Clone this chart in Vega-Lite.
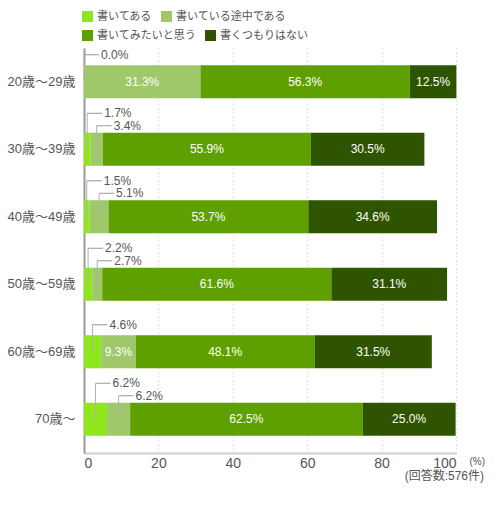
{
  "$schema": "https://vega.github.io/schema/vega-lite/v6.json",
  "description": "年代別の回答割合（回答数:576件）",
  "autosize": {"type": "none"},
  "padding": {"left": 84, "top": 48, "right": 44, "bottom": 63},
  "width": 372,
  "height": 405,
  "background": "white",
  "title": {
    "text": "(回答数:576件)",
    "orient": "bottom",
    "anchor": "end",
    "frame": "group",
    "dx": 28,
    "offset": 1,
    "fontSize": 12,
    "fontWeight": "normal",
    "color": "#555"
  },
  "config": {
    "font": "'Liberation Sans', 'Noto Sans CJK JP', sans-serif",
    "view": {"stroke": null},
    "legend": {
      "title": null,
      "orient": "none",
      "direction": "horizontal",
      "legendX": -2,
      "symbolType": "square",
      "symbolSize": 121,
      "symbolStrokeWidth": 0,
      "labelFontSize": 11,
      "labelColor": "#555",
      "labelOffset": 4,
      "columnPadding": 9
    }
  },
  "data": {
    "values": [
      {"age": "20歳～29歳", "cat": "書いてある", "value": 0.0},
      {"age": "20歳～29歳", "cat": "書いている途中である", "value": 31.3},
      {"age": "20歳～29歳", "cat": "書いてみたいと思う", "value": 56.3},
      {"age": "20歳～29歳", "cat": "書くつもりはない", "value": 12.5},
      {"age": "30歳～39歳", "cat": "書いてある", "value": 1.7},
      {"age": "30歳～39歳", "cat": "書いている途中である", "value": 3.4},
      {"age": "30歳～39歳", "cat": "書いてみたいと思う", "value": 55.9},
      {"age": "30歳～39歳", "cat": "書くつもりはない", "value": 30.5},
      {"age": "40歳～49歳", "cat": "書いてある", "value": 1.5},
      {"age": "40歳～49歳", "cat": "書いている途中である", "value": 5.1},
      {"age": "40歳～49歳", "cat": "書いてみたいと思う", "value": 53.7},
      {"age": "40歳～49歳", "cat": "書くつもりはない", "value": 34.6},
      {"age": "50歳～59歳", "cat": "書いてある", "value": 2.2},
      {"age": "50歳～59歳", "cat": "書いている途中である", "value": 2.7},
      {"age": "50歳～59歳", "cat": "書いてみたいと思う", "value": 61.6},
      {"age": "50歳～59歳", "cat": "書くつもりはない", "value": 31.1},
      {"age": "60歳～69歳", "cat": "書いてある", "value": 4.6},
      {"age": "60歳～69歳", "cat": "書いている途中である", "value": 9.3},
      {"age": "60歳～69歳", "cat": "書いてみたいと思う", "value": 48.1},
      {"age": "60歳～69歳", "cat": "書くつもりはない", "value": 31.5},
      {"age": "70歳～", "cat": "書いてある", "value": 6.2},
      {"age": "70歳～", "cat": "書いている途中である", "value": 6.2},
      {"age": "70歳～", "cat": "書いてみたいと思う", "value": 62.5},
      {"age": "70歳～", "cat": "書くつもりはない", "value": 25.0}
    ]
  },
  "transform": [
    {"calculate": "indexof(['書いてある','書いている途中である','書いてみたいと思う','書くつもりはない'], datum.cat)", "as": "ord"},
    {"stack": "value", "groupby": ["age"], "sort": [{"field": "ord", "order": "ascending"}], "as": ["v0", "v1"]},
    {"calculate": "(datum.v0 + datum.v1) / 2", "as": "mid"},
    {"calculate": "format(datum.value, '.1f') + '%'", "as": "label"}
  ],
  "encoding": {
    "y": {
      "field": "age",
      "type": "nominal",
      "sort": ["20歳～29歳", "30歳～39歳", "40歳～49歳", "50歳～59歳", "60歳～69歳", "70歳～"],
      "scale": {"paddingInner": 0.51, "paddingOuter": 0.255},
      "axis": {
        "title": null,
        "ticks": false,
        "labelPadding": 9,
        "labelFontSize": 13,
        "labelColor": "#555",
        "domainColor": "#999",
        "domainWidth": 2
      }
    }
  },
  "layer": [
    {
      "encoding": {
        "x": {
          "field": "v0",
          "type": "quantitative",
          "scale": {"domain": [0, 100], "nice": false},
          "axis": {
            "values": [0, 20, 40, 60, 80, 100],
            "ticks": false,
            "labelFontSize": 14,
            "labelColor": "#555",
            "labelPadding": 3,
            "domainColor": "#d0d0d0",
            "domainWidth": 2,
            "grid": true,
            "gridColor": "#c8c8c8",
            "gridDash": [1, 3],
            "title": "(%)",
            "titleX": 385,
            "titleY": 8,
            "titleAlign": "left",
            "titleBaseline": "middle",
            "titleFontSize": 10,
            "titleFontWeight": "normal",
            "titleColor": "#555"
          }
        },
        "x2": {"field": "v1"}
      },
      "layer": [
        {
          "transform": [{"filter": "datum.ord < 2"}],
          "mark": {"type": "bar"},
          "encoding": {
            "fill": {
              "field": "cat",
              "type": "nominal",
              "scale": {
                "domain": ["書いてある", "書いている途中である"],
                "range": ["#8fe61c", "#9ec86a"]
              },
              "legend": {"legendY": -37}
            }
          }
        },
        {
          "transform": [{"filter": "datum.ord >= 2"}],
          "mark": {"type": "bar"},
          "encoding": {
            "color": {
              "field": "cat",
              "type": "nominal",
              "scale": {
                "domain": ["書いてみたいと思う", "書くつもりはない"],
                "range": ["#5ea000", "#2e5400"]
              },
              "legend": {"legendY": -18}
            }
          }
        }
      ]
    },
    {
      "transform": [{"filter": "datum.value >= 8"}],
      "mark": {"type": "text", "color": "white", "fontSize": 12, "align": "center", "baseline": "middle"},
      "encoding": {
        "x": {"field": "mid", "type": "quantitative"},
        "text": {"field": "label"}
      }
    },
    {
      "transform": [{"filter": "datum.cat == '書いてある' && indexof(['30歳～39歳','40歳～49歳','50歳～59歳','70歳～'], datum.age) >= 0"}],
      "layer": [
        {
          "mark": {"type": "rule", "color": "#b0b0b0", "strokeWidth": 1, "y2Offset": -36},
          "encoding": {
            "x": {"field": "mid", "type": "quantitative"},
            "y2": {"field": "age", "bandPosition": 0.5}
          }
        },
        {
          "mark": {"type": "rule", "color": "#999", "strokeWidth": 1, "x2Offset": 15, "yOffset": -36},
          "encoding": {
            "x": {"field": "mid", "type": "quantitative"},
            "x2": {"field": "mid"}
          }
        },
        {
          "mark": {"type": "text", "color": "#555", "fontSize": 12, "align": "left", "baseline": "middle", "dx": 17, "dy": -36},
          "encoding": {
            "x": {"field": "mid", "type": "quantitative"},
            "text": {"field": "label"}
          }
        }
      ]
    },
    {
      "transform": [{"filter": "datum.cat == '書いている途中である' && indexof(['30歳～39歳','40歳～49歳','50歳～59歳','70歳～'], datum.age) >= 0"}],
      "layer": [
        {
          "mark": {"type": "rule", "color": "#b0b0b0", "strokeWidth": 1, "y2Offset": -23.5},
          "encoding": {
            "x": {"field": "mid", "type": "quantitative"},
            "y2": {"field": "age", "bandPosition": 0.5}
          }
        },
        {
          "mark": {"type": "rule", "color": "#999", "strokeWidth": 1, "x2Offset": 15, "yOffset": -23.5},
          "encoding": {
            "x": {"field": "mid", "type": "quantitative"},
            "x2": {"field": "mid"}
          }
        },
        {
          "mark": {"type": "text", "color": "#555", "fontSize": 12, "align": "left", "baseline": "middle", "dx": 17, "dy": -23.5},
          "encoding": {
            "x": {"field": "mid", "type": "quantitative"},
            "text": {"field": "label"}
          }
        }
      ]
    },
    {
      "transform": [{"filter": "datum.cat == '書いてある' && (datum.age == '20歳～29歳' || datum.age == '60歳～69歳')"}],
      "layer": [
        {
          "mark": {"type": "rule", "color": "#b0b0b0", "strokeWidth": 1, "y2Offset": -27},
          "encoding": {
            "x": {"field": "mid", "type": "quantitative"},
            "y2": {"field": "age", "bandPosition": 0.5}
          }
        },
        {
          "mark": {"type": "rule", "color": "#999", "strokeWidth": 1, "x2Offset": 15, "yOffset": -27},
          "encoding": {
            "x": {"field": "mid", "type": "quantitative"},
            "x2": {"field": "mid"}
          }
        },
        {
          "mark": {"type": "text", "color": "#555", "fontSize": 12, "align": "left", "baseline": "middle", "dx": 17, "dy": -27},
          "encoding": {
            "x": {"field": "mid", "type": "quantitative"},
            "text": {"field": "label"}
          }
        }
      ]
    }
  ]
}
